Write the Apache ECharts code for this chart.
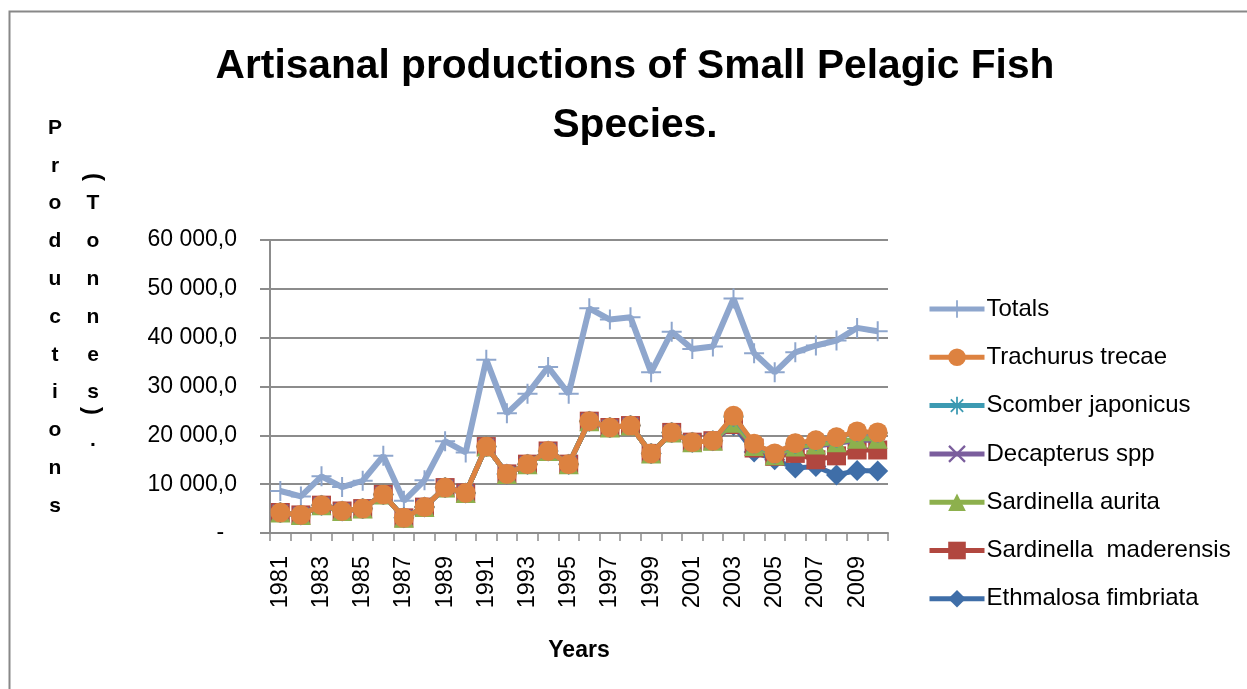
<!DOCTYPE html>
<html>
<head>
<meta charset="utf-8">
<script src="https://cdn.jsdelivr.net/npm/echarts@6/dist/echarts.min.js"></script>
<style>
html,body{margin:0;padding:0;background:#fff;}
#chart{width:1247px;height:689px;}
</style>
</head>
<body>
<div id="chart"></div>
<script>
// ---- Data ----
var years = ['1981','1982','1983','1984','1985','1986','1987','1988','1989','1990',
             '1991','1992','1993','1994','1995','1996','1997','1998','1999','2000',
             '2001','2002','2003','2004','2005','2006','2007','2008','2009','2010'];

var totals     = [8600, 7500, 11600, 9400, 10700, 15800, 6600, 10800, 18800, 16500,
                  35500, 24500, 28500, 34000, 28500, 46000, 43700, 44200, 32900, 41200,
                  37700, 38200, 48000, 36800, 32900, 37000, 38400, 39400, 42000, 41300];
var trachurus  = [4200, 3700, 5700, 4500, 5000, 7900, 3100, 5300, 9300, 8200,
                  17700, 12100, 14100, 16800, 14100, 22900, 21600, 22000, 16300, 20600,
                  18600, 18900, 24000, 18300, 16300, 18400, 19000, 19600, 20800, 20600];
var scomber    = [4200, 3700, 5700, 4500, 5000, 7900, 3100, 5300, 9300, 8200,
                  17700, 12100, 14100, 16800, 14100, 22900, 21600, 22000, 16300, 20600,
                  18600, 18900, 23800, 18200, 16200, 18300, 18900, 19500, 20700, 20500];
var decapterus = [4200, 3700, 5700, 4500, 5000, 7900, 3100, 5300, 9300, 8200,
                  17700, 12100, 14100, 16800, 14100, 22900, 21600, 22000, 16300, 20600,
                  18600, 18900, 22300, 17600, 15700, 17400, 17800, 18300, 19000, 19000];
var aurita     = [4200, 3700, 5700, 4500, 5000, 7900, 3100, 5300, 9300, 8200,
                  17700, 12100, 14100, 16800, 14100, 22900, 21600, 22000, 16300, 20600,
                  18600, 18900, 22600, 17800, 15900, 17700, 18100, 18600, 19300, 19300];
var maderensis = [4200, 3700, 5700, 4500, 5000, 7900, 3100, 5300, 9300, 8200,
                  17700, 12100, 14100, 16800, 14100, 22900, 21600, 22000, 16300, 20600,
                  18600, 18900, 22200, 17400, 15700, 16300, 15000, 15800, 17000, 17000];
var ethmalosa  = [4200, 3700, 5700, 4500, 5000, 7900, 3100, 5300, 9300, 8200,
                  17700, 12100, 14100, 16800, 14100, 22900, 21600, 22000, 16300, 20600,
                  18600, 18900, 22000, 16600, 15000, 13300, 13600, 11900, 12800, 12700];

var seriesNames = ['Totals', 'Trachurus trecae', 'Scomber japonicus', 'Decapterus spp',
                   'Sardinella aurita', 'Sardinella  maderensis', 'Ethmalosa fimbriata'];
var chartTitle = 'Artisanal productions of Small Pelagic Fish\nSpecies.';
var xTitle = 'Years';
var yTitleCol1 = ['P','r','o','d','u','c','t','i','o','n','s'];
var yTitleCol2 = ['T','o','n','n','e','s'];

// ---- Styling ----
var FONT = '"Liberation Sans", Arial, sans-serif';
var colors = {
  'Totals': '#8EA6CD',
  'Trachurus trecae': '#DD8240',
  'Scomber japonicus': '#3C9AB2',
  'Decapterus spp': '#7B5E9D',
  'Sardinella aurita': '#8DB04D',
  'Sardinella  maderensis': '#B1473F',
  'Ethmalosa fimbriata': '#3F6EA8'
};
var plusPath = 'path://M-1,-10 L1,-10 L1,10 L-1,10 Z M-10,-1 L10,-1 L10,1 L-10,1 Z';
var xPath = 'path://M-6.3,-7.7 L7.7,6.3 L6.3,7.7 L-7.7,-6.3 Z M-6.3,7.7 L-7.7,6.3 L6.3,-7.7 L7.7,-6.3 Z';
var starPath = 'path://M-1,-10 L1,-10 L1,10 L-1,10 Z M-10,-1 L10,-1 L10,1 L-10,1 Z ' +
               'M-6.3,-7.7 L7.7,6.3 L6.3,7.7 L-7.7,-6.3 Z M-6.3,7.7 L-7.7,6.3 L6.3,-7.7 L7.7,-6.3 Z';

function fmt(v) {
  if (v === 0) return '-  ';
  return String(Math.round(v)).replace(/\B(?=(\d{3})+(?!\d))/g, ' ') + ',0';
}

function mk(name, data, symbol, size, lw, z) {
  return {
    name: name, type: 'line', data: data, symbol: symbol, symbolSize: size,
    showAllSymbol: true, z: z,
    lineStyle: { color: colors[name], width: lw },
    itemStyle: { color: colors[name], opacity: 1 },
    emphasis: { disabled: true },
    animation: false
  };
}

var YF = 'bold 21px ' + FONT;
var graphics = [
  { type: 'polyline', shape: { points: [[9.5, 700], [9.5, 11.5], [1260, 11.5]] },
    style: { stroke: '#888', lineWidth: 2, fill: null }, silent: true }
];
for (var i = 0; i < yTitleCol1.length; i++) {
  graphics.push({ type: 'text', x: 55, y: 128 + 37.8 * i,
    style: { text: yTitleCol1[i], font: YF, fill: '#000', align: 'center', verticalAlign: 'middle' } });
}
for (var j = 0; j < yTitleCol2.length; j++) {
  graphics.push({ type: 'text', x: 93, y: 128 + 37.8 * (j + 2),
    style: { text: yTitleCol2[j], font: YF, fill: '#000', align: 'center', verticalAlign: 'middle' } });
}
graphics.push({ type: 'text', x: 94, y: 177, rotation: -Math.PI / 2,
  style: { text: '(', font: 'bold 24px ' + FONT, fill: '#000', align: 'center', verticalAlign: 'middle' } });
graphics.push({ type: 'text', x: 92, y: 411, rotation: -Math.PI / 2,
  style: { text: ')', font: 'bold 24px ' + FONT, fill: '#000', align: 'center', verticalAlign: 'middle' } });
graphics.push({ type: 'text', x: 93, y: 440,
  style: { text: '.', font: YF, fill: '#000', align: 'center', verticalAlign: 'middle' } });

var chart = echarts.init(document.getElementById('chart'), null, { renderer: 'canvas' });
chart.setOption({
  backgroundColor: '#fff',
  animation: false,
  title: {
    text: chartTitle, left: 630, textAlign: 'center', top: 32,
    textStyle: { fontFamily: FONT, fontWeight: 'bold', fontSize: 40.7, lineHeight: 59, color: '#000' }
  },
  grid: { left: 270, top: 240, width: 618, height: 293, containLabel: false },
  legend: {
    orient: 'vertical', left: 927, top: 297, padding: 0,
    itemWidth: 55, itemHeight: 22, itemGap: 24.3,
    data: seriesNames,
    textStyle: { fontFamily: FONT, fontSize: 24, lineHeight: 22, color: '#000', padding: [0, 0, 0, -3] },
    lineStyle: { width: 5 },
    selectedMode: false
  },
  xAxis: {
    type: 'category', data: years, boundaryGap: true,
    name: xTitle, nameLocation: 'middle', nameGap: 106,
    nameTextStyle: { fontFamily: FONT, fontWeight: 'bold', fontSize: 23, color: '#000' },
    axisLine: { lineStyle: { color: '#8c8c8c', width: 2 } },
    axisTick: { show: true, interval: 0, length: 8, lineStyle: { color: '#8c8c8c', width: 1.5 } },
    axisLabel: { interval: 1, rotate: 90, margin: 23, fontFamily: FONT, fontSize: 23.5, color: '#000' },
    splitLine: { show: false }
  },
  yAxis: {
    type: 'value', min: 0, max: 60000, interval: 10000,
    axisLine: { show: true, lineStyle: { color: '#8c8c8c', width: 2 } },
    axisTick: { show: true, length: 10, lineStyle: { color: '#8c8c8c', width: 2 } },
    axisLabel: { margin: 33, fontFamily: FONT, fontSize: 23, color: '#000', formatter: fmt },
    splitLine: { show: true, lineStyle: { color: '#8c8c8c', width: 2 } }
  },
  graphic: graphics,
  series: [
    mk('Totals', totals, plusPath, 20, 6, 2),
    mk('Ethmalosa fimbriata', ethmalosa, 'diamond', 21, 5, 3),
    mk('Sardinella  maderensis', maderensis, 'rect', 19, 5, 4),
    mk('Decapterus spp', decapterus, xPath, 17, 5, 5),
    mk('Sardinella aurita', aurita, 'triangle', 20, 5, 6),
    mk('Scomber japonicus', scomber, starPath, 20, 5, 7),
    mk('Trachurus trecae', trachurus, 'circle', 20, 5, 8)
  ]
});
</script>
</body>
</html>
